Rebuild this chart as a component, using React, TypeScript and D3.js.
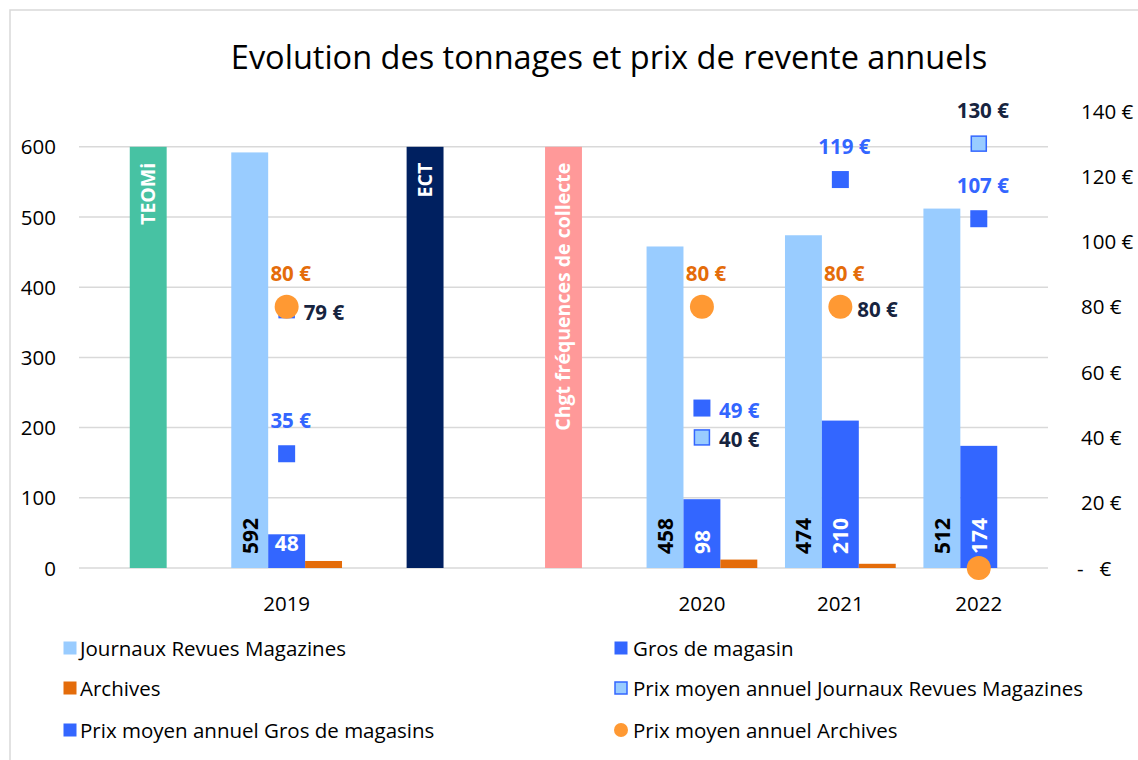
import * as d3 from "d3";

const categories = ["evt1", "2019", "evt2", "evt3", "2020", "2021", "2022"];
const xLabels = ["", "2019", "", "", "2020", "2021", "2022"];

// event bars (drawn to the top gridline)
const eventNames = ["TEOMi", null, "ECT", "Chgt fréquences de collecte", null, null, null];
const eventColors = ["#47C2A3", null, "#002060", "#FF9999", null, null, null];
const eventValue = 600;

// tonnages
const journaux = [null, 592, null, null, 458, 474, 512];
const gros = [null, 48, null, null, 98, 210, 174];
const archives = [null, 10, null, null, 12, 6, 0];

// prix moyens (axe de droite)
const prixJournaux = [null, 79, null, null, 40, 80, 130];
const prixGros = [null, 35, null, null, 49, 119, 107];
const prixArchives = [null, 80, null, null, 80, 80, 0];

const prixJournauxLabelPos = [null, "right", null, null, "right", "right", "top"];
const prixGrosLabelPos = [null, "top", null, null, "right", "top", "top"];
const prixArchivesLabelPos = [null, "top", null, null, "top", "top", "none"];

const leftTicks = [0, 100, 200, 300, 400, 500, 600];
const rightTicks = [0, 20, 40, 60, 80, 100, 120, 140];

const legendItems = [
  { label: "Journaux Revues Magazines", kind: "rect", fill: "#99CCFF" },
  { label: "Gros de magasin", kind: "rect", fill: "#3366FF" },
  { label: "Archives", kind: "rect", fill: "#E46C0A" },
  { label: "Prix moyen annuel Journaux Revues Magazines", kind: "sq", fill: "#99CCFF" },
  { label: "Prix moyen annuel Gros de magasins", kind: "rect", fill: "#3366FF" },
  { label: "Prix moyen annuel Archives", kind: "circle", fill: "#FF9933" },
];

const FONT = "'Open Sans', Lato, sans-serif";
const NAVY = "#17243F";

export default function App() {
  const width = 1138;
  const height = 760;
  const plotLeft = 79;
  const plotRight = 1048;
  const plotTop = 111;
  const plotBottom = 568;

  const x = d3
    .scaleBand<string>()
    .domain(categories)
    .range([plotLeft, plotRight])
    .paddingInner(0.2)
    .paddingOuter(0.1);

  const sub = d3
    .scaleBand<string>()
    .domain(["j", "g", "a"])
    .range([0, x.bandwidth()]);

  const y = d3.scaleLinear().domain([0, 651]).range([plotBottom, plotTop]);
  const y2 = d3.scaleLinear().domain([0, 140]).range([plotBottom, plotTop]);

  const bw = sub.bandwidth();
  const cx = (i: number) => (x(categories[i]) as number) + x.bandwidth() / 2;

  const barSeries = [
    { key: "j", values: journaux, fill: "#99CCFF", labelColor: "#000" },
    { key: "g", values: gros, fill: "#3366FF", labelColor: "#fff" },
    { key: "a", values: archives, fill: "#E46C0A", labelColor: null },
  ];

  const euro = (v: number) => `${v} €`;

  const priceLabel = (
    i: number,
    v: number | null,
    pos: string | null,
    color: string,
  ) => {
    if (v == null || pos == null || pos === "none") return null;
    const px = cx(i);
    const py = y2(v);
    if (pos === "top") {
      return (
        <text key={`pl-${color}-${i}`} x={px + 4} y={py - 26} textAnchor="middle"
          fontSize={20.5} fontWeight="bold" fill={color} fontFamily={FONT}>
          {euro(v)}
        </text>
      );
    }
    return (
      <text key={`pl-${color}-${i}`} x={px + 17} y={py + 10} textAnchor="start"
        fontSize={20.5} fontWeight="bold" fill={color} fontFamily={FONT}>
        {euro(v)}
      </text>
    );
  };

  return (
    <div style={{ position: "absolute", left: 0, top: 0 }}>
      <svg width={width} height={height} style={{ display: "block" }}>
        <rect x={0} y={0} width={width} height={height} fill="#fff" />
        <rect x={10} y={10} width={width + 20} height={height + 20} fill="none" stroke="#D9D9D9" strokeWidth={1.5} />

        <text x={609} y={69} textAnchor="middle" fontSize={32.5} fontFamily={FONT} fill="#000">
          Evolution des tonnages et prix de revente annuels
        </text>

        {/* gridlines */}
        {leftTicks.map((t) => (
          <line key={`g${t}`} x1={plotLeft} x2={plotRight} y1={y(t)} y2={y(t)} stroke="#D9D9D9" strokeWidth={1.5} />
        ))}

        {/* left axis */}
        {leftTicks.map((t) => (
          <text key={`l${t}`} x={56} y={y(t) + 7.5} textAnchor="end" fontSize={20.5} fontFamily={FONT} fill="#000">
            {t}
          </text>
        ))}

        {/* right axis */}
        {rightTicks.map((t) => (
          <text key={`r${t}`} x={t === 0 ? 1077 : 1081} y={y2(t) + 7.5} textAnchor="start" fontSize={20.5}
            fontFamily={FONT} fill="#000" style={{ whiteSpace: "pre" }}>
            {t === 0 ? "-   €" : euro(t)}
          </text>
        ))}

        {/* x labels */}
        {xLabels.map((l, i) => (
          <text key={`x${i}`} x={cx(i)} y={611} textAnchor="middle" fontSize={20.5} fontFamily={FONT} fill="#000">
            {l}
          </text>
        ))}

        {/* event bars */}
        {eventNames.map((name, i) => {
          if (!name) return null;
          const bx = cx(i) - bw / 2;
          const tx = cx(i) + 7;
          const ty = y(eventValue) + 16;
          return (
            <g key={`e${i}`}>
              <rect x={bx} y={y(eventValue)} width={bw} height={plotBottom - y(eventValue)} fill={eventColors[i] as string} />
              <text x={tx} y={ty} transform={`rotate(-90, ${tx}, ${ty})`} textAnchor="end" fontSize={19.5}
                fontWeight="bold" fill="#fff" fontFamily={FONT}>
                {name}
              </text>
            </g>
          );
        })}

        {/* tonnage bars */}
        {barSeries.map((s) =>
          s.values.map((v, i) => {
            if (v == null) return null;
            const bx = (x(categories[i]) as number) + (sub(s.key) as number);
            const top = y(v);
            const h = plotBottom - top;
            return <rect key={`b${s.key}${i}`} x={bx} y={top} width={bw} height={h} fill={s.fill} />;
          }),
        )}

        {/* bar labels */}
        {barSeries.map((s) =>
          s.values.map((v, i) => {
            if (v == null || !s.labelColor) return null;
            const bcx = (x(categories[i]) as number) + (sub(s.key) as number) + bw / 2;
            const h = plotBottom - y(v);
            if (h < 50) {
              return (
                <text key={`bl${s.key}${i}`} x={bcx} y={y(v) + 17} textAnchor="middle" fontSize={21}
                  fontWeight="bold" fill={s.labelColor} fontFamily={FONT}>
                  {v}
                </text>
              );
            }
            const tx = bcx + 8;
            const ty = plotBottom - 14;
            return (
              <text key={`bl${s.key}${i}`} x={tx} y={ty} transform={`rotate(-90, ${tx}, ${ty})`} textAnchor="start"
                fontSize={21} fontWeight="bold" fill={s.labelColor} fontFamily={FONT}>
                {v}
              </text>
            );
          }),
        )}

        {/* price markers */}
        {prixJournaux.map((v, i) =>
          v == null ? null : (
            <rect key={`pj${i}`} x={cx(i) - 7.5} y={y2(v) - 7.5} width={15} height={15} fill="#99CCFF" stroke="#3366FF" strokeWidth={1.5} />
          ),
        )}
        {prixGros.map((v, i) =>
          v == null ? null : (
            <rect key={`pg${i}`} x={cx(i) - 8.5} y={y2(v) - 8.5} width={17} height={17} fill="#3366FF" />
          ),
        )}
        {prixArchives.map((v, i) =>
          v == null ? null : <circle key={`pa${i}`} cx={cx(i)} cy={y2(v)} r={12} fill="#FF9933" />,
        )}

        {/* price labels */}
        {prixJournaux.map((v, i) => priceLabel(i, v, prixJournauxLabelPos[i], NAVY))}
        {prixGros.map((v, i) => priceLabel(i, v, prixGrosLabelPos[i], "#3366FF"))}
        {prixArchives.map((v, i) => priceLabel(i, v, prixArchivesLabelPos[i], "#E46C0A"))}

        {/* legend */}
        {legendItems.map((it, k) => {
          const col = k % 2;
          const row = Math.floor(k / 2);
          const mx = col === 0 ? 70 : 621;
          const my = [648, 688, 730][row];
          const tx = col === 0 ? 80 : 633;
          return (
            <g key={`lg${k}`}>
              {it.kind === "circle" ? (
                <circle cx={mx} cy={my} r={7} fill={it.fill} />
              ) : it.kind === "sq" ? (
                <rect x={mx - 6} y={my - 6} width={12} height={12} fill={it.fill} stroke="#3366FF" strokeWidth={1.5} />
              ) : (
                <rect x={mx - 6.5} y={my - 6.5} width={13} height={13} fill={it.fill} />
              )}
              <text x={tx} y={my + 7.5} fontSize={20.5} fontFamily={FONT} fill="#000">
                {it.label}
              </text>
            </g>
          );
        })}
      </svg>
    </div>
  );
}
